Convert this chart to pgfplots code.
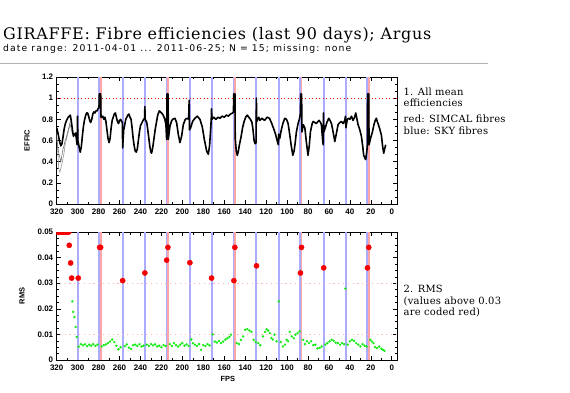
\documentclass[border=0pt]{standalone}
\usepackage{pgfplots}
\pgfplotsset{compat=1.18}
\usepackage{fontspec}
\setmainfont{DejaVu Serif}
\newfontfamily\lsans{Liberation Sans}
\newfontfamily\dsans{DejaVu Sans}[LetterSpace=12]
\newfontfamily\tserif{DejaVu Serif}[LetterSpace=4.5]
\newfontfamily\rserif{DejaVu Serif}[LetterSpace=2]
\definecolor{vblue}{RGB}{172,172,255}
\definecolor{vred}{RGB}{255,165,165}
\definecolor{dotpink}{RGB}{255,180,180}
\definecolor{ptgreen}{RGB}{20,235,20}
\definecolor{ptred}{RGB}{245,0,0}

\pgfplotsset{
  myaxis/.style={
    scale only axis, width=340.3bp,
    xmin=-5, xmax=320, x dir=reverse,
    xtick={0,20,...,320}, minor x tick num=1,
    tick align=inside,
    major tick length=4bp, minor tick length=2.5bp,
    every tick/.style={black, line width=0.6bp},
    axis line style={line width=0.8bp},
    ticklabel style={font=\lsans\bfseries\fontsize{8}{9}\selectfont},
    xticklabel style={yshift=-1.8bp},
    /pgf/number format/assume math mode=true,
    scaled ticks=false,
    clip marker paths=true,
    label style={font=\lsans\bfseries\fontsize{7.5}{9}\selectfont},
  }
}

\begin{document}
\begin{tikzpicture}[x=1bp,y=1bp]
\useasboundingbox (0,0) rectangle (570,392);

\node[anchor=base west, inner sep=0, font=\tserif\fontsize{16}{19}\selectfont] at (3,352.5) {GIRAFFE: Fibre efficiencies (last 90 days); Argus};
\node[anchor=base west, inner sep=0, font=\dsans\fontsize{9.3}{11}\selectfont] at (3,340.5) {date range: 2011-04-01 ... 2011-06-25; N = 15; missing: none};
\draw[black!30, line width=1.5bp] (0,328.5) -- (488,328.5);

\begin{scope}[every node/.style={anchor=base west, inner sep=0, font=\rserif\fontsize{10}{11}\selectfont}]
\node at (403.5,297) {1. All mean};
\node at (403.5,285.5) {efficiencies};
\node at (403.5,269.3) {red: SIMCAL fibres};
\node at (403.5,258) {blue: SKY fibres};
\node at (403.5,99.3) {2. RMS};
\node at (403.5,87.8) {(values above 0.03};
\node at (403.5,76.3) {are coded red)};
\end{scope}

% ---------------- top axis ----------------
\begin{axis}[myaxis, at={(56.7bp,188bp)}, anchor=south west, height=127bp,
  ymin=0, ymax=1.2, ytick={0,0.2,0.4,0.6,0.8,1,1.2},
  yticklabels={0,0.2,0.4,0.6,0.8,1,1.2}, minor y tick num=2,
  ylabel={EFFIC}, ylabel style={at={(axis description cs:-0.087,0.5)}, anchor=center},
]
\pgfplotsinvokeforeach{300.0,279.4,257.0,235.8,215.0,192.8,172.1,150.8,129.2,107.9,87.2,65.0,44.0,23.2}{
  \addplot[vblue, line width=2bp, forget plot] coordinates {(#1,0) (#1,1.2)};
}
\pgfplotsinvokeforeach{277.7,213.6,149.6,86.0,21.7}{
  \addplot[vred, line width=1.5bp, forget plot] coordinates {(#1,0) (#1,1.2)};
}
\addplot[red, line width=0.6bp, dash pattern=on 1bp off 2.5bp, forget plot] coordinates {(-5,1) (320,1)};
% grey traces
\addplot[black!40, line width=0.6bp] coordinates {(320,0.68) (319,0.50) (318,0.33) (317,0.30) (316,0.34) (315,0.38) (314,0.43) (313,0.48) (312,0.56) (311,0.60) (310,0.64) (309,0.68) (308,0.72) (307,0.75) (306,0.70) (305,0.66) (304,0.64)};
\addplot[black!55, line width=0.6bp] coordinates {(320,0.62) (319,0.55) (318,0.48) (317,0.44) (316,0.40) (315,0.46) (314,0.52) (313,0.55) (312,0.60) (311,0.62) (310,0.66) (309,0.70) (308,0.74) (307,0.78)};
% mean efficiencies
\addplot[black, line width=1.6bp, line join=round] table {
x y
320 0.72
319 0.68
318 0.63
317 0.58
316 0.55
315 0.57
314 0.63
313 0.70
312 0.75
311 0.78
310 0.80
309 0.82
308 0.83
307 0.84
306 0.78
305 0.70
304 0.64
303 0.66
302 0.67
301 0.60
300.5 0.56
300.1 0.83
299.8 0.60
299 0.56
298 0.51
297.5 0.49
296.5 0.54
295.5 0.64
294.5 0.73
293.5 0.79
292.5 0.83
291.5 0.86
290.5 0.86
289.5 0.83
288.5 0.79
287.5 0.77
286.5 0.80
285.5 0.85
284.5 0.87
283.5 0.86
282.5 0.88
281.5 0.88
280.5 0.90
279.6 0.91
279.3 1.04
278.0 1.04
277.7 0.82
277 0.82
276 0.83
275 0.80
274 0.82
273 0.78
272 0.70
271 0.62
270 0.58
269 0.62
268 0.72
267 0.79
266 0.82
265 0.85
264 0.86
263 0.82
262 0.78
261 0.76
260 0.79
259 0.80
258 0.78
257.3 0.77
257.0 0.53
256.5 0.62
256 0.70
255 0.75
254 0.80
253 0.82
252 0.84
251 0.85
250 0.82
249 0.80
248 0.72
247 0.62
246 0.55
245 0.50
244 0.49
243 0.52
242 0.60
241 0.68
240 0.74
239 0.76
238 0.78
237 0.80
236.1 0.81
235.8 0.92
235.5 0.80
234 0.77
233 0.70
232 0.62
231 0.54
230 0.49
229.4 0.48
228.5 0.52
227.2 0.61
226 0.70
224.6 0.78
223.5 0.84
222 0.88
221 0.87
219.8 0.86
218.3 0.84
216.7 0.80
215.7 0.75
215.0 0.61
214.7 1.04
213.6 1.04
213.4 0.61
211.9 0.73
210.5 0.78
209.3 0.80
207.1 0.81
205.5 0.77
203.9 0.66
202.3 0.58
200.7 0.64
199.1 0.75
197.2 0.80
195.3 0.81
194 0.80
193.5 0.98
193.2 0.70
192.1 0.72
190.2 0.78
188 0.81
185.7 0.83
183.2 0.80
181 0.73
179 0.61
176.8 0.50
175.2 0.47
174 0.55
173 0.70
172.4 0.80
172.1 0.90
171.8 0.80
170 0.82
168 0.80
166 0.82
164 0.81
162 0.83
160 0.82
158 0.84
156 0.83
154 0.85
152 0.86
151.2 0.87
150.9 1.04
149.7 1.04
149.5 0.62
148.5 0.50
147.5 0.46
146.5 0.50
145.5 0.56
144 0.63
142.5 0.72
141 0.78
139.5 0.82
138 0.84
136.5 0.82
135 0.80
133.5 0.77
132.5 0.70
131.5 0.60
130.5 0.57
129.6 0.58
129.3 1.00
129.0 0.78
127 0.82
126 0.79
124 0.81
121.5 0.79
119 0.82
116.8 0.81
114.6 0.76
112.7 0.71
111 0.66
109.5 0.60
108.3 0.56
108 0.66
107 0.62
105.5 0.70
104 0.76
102.2 0.81
100.5 0.80
99.0 0.76
97.5 0.66
96 0.55
94.5 0.46
93.3 0.50
92.2 0.58
91.1 0.68
89.5 0.76
88 0.81
87.2 0.86
87.0 1.04
86.1 1.04
85.8 0.68
84.5 0.75
83 0.72
81.6 0.59
80 0.46
78.8 0.55
77.7 0.68
76 0.76
75 0.78
73.5 0.77
72 0.76
70.5 0.78
69.4 0.79
68 0.77
67.2 0.75
66 0.60
65.5 0.56
65.2 0.86
64.9 0.68
63.5 0.72
62 0.77
60.2 0.81
59 0.79
57.6 0.76
56 0.68
54.4 0.59
53 0.66
51.3 0.75
49.5 0.77
48.1 0.78
46.5 0.76
44.9 0.79
44.2 0.83
43.8 0.72
42.5 0.80
41 0.81
40 0.80
38.5 0.83
37 0.79
35.5 0.82
34.4 0.86
33.2 0.80
32.2 0.75
30.5 0.70
29 0.64
27.8 0.55
26.8 0.46
25.5 0.43
24.9 0.42
23.8 0.50
23.3 0.56
23.1 1.04
22.0 1.04
21.7 0.56
20 0.63
18.5 0.68
17 0.75
15.8 0.79
14.7 0.81
13.9 0.78
13.1 0.76
11.5 0.71
9.9 0.65
8.8 0.55
7.7 0.48
6.8 0.52
5.8 0.56
};
\end{axis}

% ---------------- bottom axis ----------------
\begin{axis}[myaxis, at={(56.7bp,32bp)}, anchor=south west, height=128bp,
  ymin=0, ymax=0.05, ytick={0,0.01,0.02,0.03,0.04,0.05},
  yticklabels={0,0.01,0.02,0.03,0.04,0.05}, minor y tick num=3,
  ylabel={RMS}, ylabel style={at={(axis description cs:-0.102,0.5)}, anchor=center},
  xlabel={FPS}, xlabel style={at={(axis description cs:0.503,-0.148)}, anchor=center},
]
\pgfplotsinvokeforeach{300.0,279.4,257.0,235.8,215.0,192.8,172.1,150.8,129.2,107.9,87.2,65.0,44.0,23.2}{
  \addplot[vblue, line width=2bp, forget plot] coordinates {(#1,0) (#1,0.05)};
}
\pgfplotsinvokeforeach{277.7,213.6,149.6,86.0,21.7}{
  \addplot[vred, line width=1.5bp, forget plot] coordinates {(#1,0) (#1,0.05)};
}
\addplot[dotpink, line width=1.3bp, dash pattern=on 1.3bp off 3.5bp, forget plot] coordinates {(-5,0.03) (320,0.03)};
\addplot[dotpink, line width=1.3bp, dash pattern=on 1.3bp off 3.5bp, forget plot] coordinates {(-5,0.01) (320,0.01)};
% green: RMS <= 0.03
\addplot[only marks, mark=*, mark size=1.0bp, color=ptgreen, mark options={draw=ptgreen, fill=ptgreen}] table {
x y
305.1 0.0229
304.2 0.0188
303.2 0.0168
301.9 0.0129
300.9 0.0090
299 0.0052
297 0.0062
295 0.0058
293 0.0061
291 0.0054
289 0.0060
287 0.0056
285 0.0062
283 0.0055
281 0.0060
277 0.0053
275 0.0058
273 0.0061
271 0.0066
269 0.0072
267 0.0080
265 0.0070
263 0.0056
261 0.0042
259 0.0050
255 0.0054
253 0.0061
251 0.0048
249 0.0043
247 0.0058
245 0.0060
243 0.0055
241 0.0062
239 0.0053
237 0.0056
234 0.0060
232 0.0055
230 0.0062
228 0.0057
226 0.0061
224 0.0053
222 0.0056
220 0.0050
218 0.0058
216 0.0055
212 0.0062
210 0.0055
208 0.0066
206 0.0058
204 0.0053
202 0.0060
200 0.0066
198 0.0056
196 0.0061
194 0.0055
191.5 0.0080
190 0.0066
188 0.0060
186 0.0055
184 0.0062
182 0.0040
180 0.0058
178 0.0055
176 0.0062
174 0.0057
171 0.0100
169 0.0072
167 0.0068
165 0.0075
163 0.0066
161 0.0072
159 0.0080
157 0.0085
155 0.0090
153.5 0.0099
148 0.0066
146 0.0062
144 0.0079
142 0.0092
140 0.0118
138 0.0121
136 0.0115
134 0.0110
132 0.0079
130 0.0070
127.5 0.0066
125.5 0.0058
123 0.0092
121 0.0110
119.5 0.0120
118 0.0115
116.5 0.0105
115 0.0086
113.5 0.0080
112 0.0099
110 0.0073
108 0.0229
106 0.0070
104 0.0053
102 0.0060
100.5 0.0079
99 0.0073
97.4 0.0110
95.5 0.0092
93.5 0.0085
92 0.0099
90 0.0105
88 0.0112
84.7 0.0079
83 0.0062
81 0.0073
79 0.0066
77 0.0073
75 0.0058
73 0.0060
71 0.0045
69 0.0047
67 0.0053
63.5 0.0060
61.5 0.0066
59.5 0.0073
57.5 0.0079
55.5 0.0075
53.5 0.0068
51.5 0.0066
49.5 0.0060
47.5 0.0066
45.5 0.0062
44.3 0.0279
42 0.0060
40 0.0073
38 0.0079
36 0.0075
34 0.0066
32 0.0060
30 0.0053
28 0.0062
26 0.0056
24 0.0053
20.5 0.0079
19 0.0072
17.5 0.0066
16 0.0050
14 0.0047
12 0.0052
10 0.0044
8.5 0.0040
7 0.0036
};
% red: RMS > 0.03
\addplot[only marks, mark=*, mark size=2.6bp, color=ptred, mark options={draw=ptred, fill=ptred}] table {
x y
320 0.05
319 0.05
318 0.05
317 0.05
316 0.05
315 0.05
314 0.05
313 0.05
312 0.05
311 0.05
310 0.05
309 0.05
308.5 0.05
308 0.0448
306.7 0.0379
305.7 0.0320
299.4 0.0320
279 0.0440
278 0.0440
257 0.0310
235.8 0.0340
215 0.0390
213.8 0.0440
192.8 0.0380
172.1 0.0320
150.8 0.0310
149.9 0.0440
129.2 0.0368
87.2 0.0340
86.2 0.0440
65 0.0360
23.2 0.0360
22 0.0440
};
\end{axis}
\end{tikzpicture}
\end{document}
